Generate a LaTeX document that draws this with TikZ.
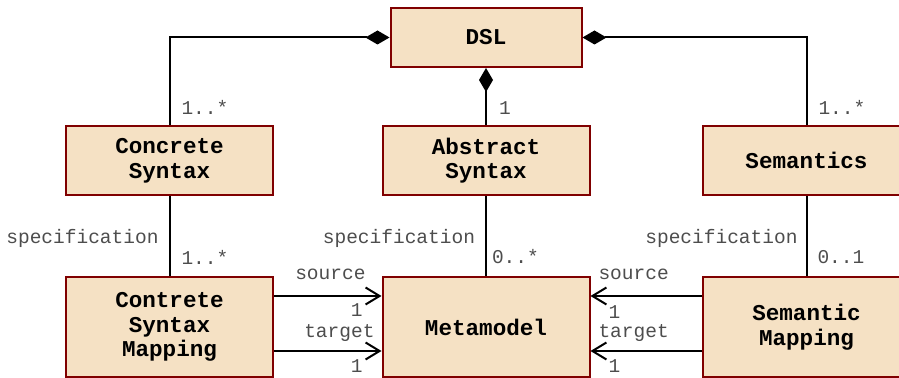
\documentclass[tikz,border=0pt]{standalone}
\usepackage{fontspec}
\setmainfont{Liberation Mono}
\usetikzlibrary{arrows.meta}
\definecolor{boxfill}{HTML}{F5E1C4}
\definecolor{boxline}{HTML}{800000}
\definecolor{lbl}{HTML}{4D4D4D}
\begin{document}
\begin{tikzpicture}[x=0.5pt,y=-0.5pt,
  cls/.style={draw=boxline, fill=boxfill, line width=1pt, minimum width=103.5pt, align=center, inner sep=0pt, font=\fontsize{11.3}{12.3}\selectfont\bfseries},
  mult/.style={text=lbl, inner sep=0pt, font=\fontsize{9.75}{11}\selectfont},
  conn/.style={line width=1pt, draw=black},
  comp/.style={conn, {Diamond[length=12pt,width=7pt]}-},
  nav/.style={conn, -{Straight Barb[length=7pt,width=8.5pt]}}
]
\useasboundingbox (0,0) rectangle (899,378);
\node[cls, minimum width=95.5pt, minimum height=29.5pt] (dsl) at (486,37.5) {DSL};
\node[cls, minimum height=34.5pt] (cs) at (169.5,160.5) {Concrete\\Syntax};
\node[cls, minimum height=34.5pt] (as) at (486,160.5) {Abstract\\Syntax};
\node[cls, minimum height=34.5pt] (sem) at (806.5,160.5) {Semantics};
\node[cls, minimum height=50pt] (csm) at (169.5,327) {Contrete\\Syntax\\Mapping};
\node[cls, minimum height=50pt] (mm) at (486,327) {Metamodel};
\node[cls, minimum height=50pt] (sm) at (806.5,327) {Semantic\\Mapping};

% composition
\draw[comp] (dsl.west) -| (cs.north) node[mult, anchor=base west, xshift=5.5pt, yshift=5pt] {1..*};
\draw[comp] (dsl.south) -- (as.north) node[mult, anchor=base west, xshift=6pt, yshift=5pt] {1};
\draw[comp] (dsl.east) -| (sem.north) node[mult, anchor=base west, xshift=5.5pt, yshift=5pt] {1..*};

% specification
\draw[conn] (cs.south) -- node[mult, pos=0.6, anchor=base east, xshift=-5pt] {specification} (csm.north)
  node[mult, anchor=base west, xshift=5.5pt, yshift=5.5pt] {1..*};
\draw[conn] (as.south) -- node[mult, pos=0.6, anchor=base east, xshift=-5pt] {specification} (mm.north)
  node[mult, anchor=base west, xshift=2.5pt, yshift=6pt] {0..*};
\draw[conn] (sem.south) -- node[mult, pos=0.6, anchor=base east, xshift=-4pt] {specification} (sm.north)
  node[mult, anchor=base west, xshift=5pt, yshift=6pt] {0..1};

% navigations
\draw[nav] (csm.east |- 0,296) -- (mm.west |- 0,296)
  node[mult, anchor=base east, xshift=-7.5pt, yshift=8pt] {source}
  node[mult, anchor=base east, xshift=-9pt, yshift=-10.5pt] {1};
\draw[nav] (csm.east |- 0,351) -- (mm.west |- 0,351)
  node[mult, anchor=base east, xshift=-3pt, yshift=6.5pt] {target}
  node[mult, anchor=base east, xshift=-9pt, yshift=-11pt] {1};
\draw[nav] (sm.west |- 0,296) -- (mm.east |- 0,296)
  node[mult, anchor=base west, xshift=3.5pt, yshift=8pt] {source}
  node[mult, anchor=base west, xshift=8.5pt, yshift=-11.5pt] {1};
\draw[nav] (sm.west |- 0,351) -- (mm.east |- 0,351)
  node[mult, anchor=base west, xshift=3.5pt, yshift=6.5pt] {target}
  node[mult, anchor=base west, xshift=8.5pt, yshift=-11pt] {1};
\end{tikzpicture}
\end{document}
